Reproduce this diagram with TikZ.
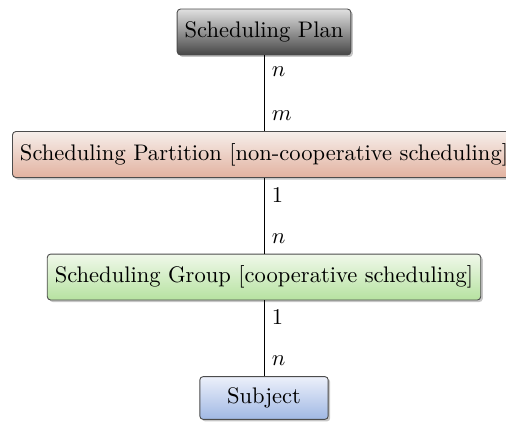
\documentclass[tikz,border=0pt]{standalone}
\usepackage{tikz}
\usetikzlibrary{shadows,positioning}
\definecolor{planbot}{RGB}{70,70,70}
\definecolor{parttop}{RGB}{246,238,234}
\definecolor{partbot}{RGB}{226,178,160}
\definecolor{grouptop}{RGB}{240,248,234}
\definecolor{groupbot}{RGB}{182,226,160}
\definecolor{subjtop}{RGB}{236,240,250}
\definecolor{subjbot}{RGB}{160,184,228}
\tikzstyle{block} = [
  rectangle, draw=black!70, rounded corners=1.5pt, text centered,
  minimum height = 20.4pt,
  drop shadow={opacity=0.45, shadow xshift=0.9pt, shadow yshift=-0.9pt}
]
\tikzstyle{planblock} = [block, top color=black!12, bottom color=planbot]
\tikzstyle{partblock} = [block, top color=parttop, bottom color=partbot]
\tikzstyle{groupblock} = [block, top color=grouptop, bottom color=groupbot]
\tikzstyle{subjblock} = [block, top color=subjtop, bottom color=subjbot]

\begin{document}
\begin{tikzpicture}[x=0.444pt, y=-0.444pt]
    \useasboundingbox (0,0) rectangle (506,424);
    \node[planblock, minimum width=76pt] (plan) at (264,32) {Scheduling Plan};
    \node[partblock, below=33.6pt of plan] (part) {Scheduling Partition [non-cooperative scheduling]};
    \node[groupblock, below=33.6pt of part] (group) {Scheduling Group [cooperative scheduling]};
    \node[subjblock, below=33.6pt of group, minimum width=57pt, minimum height=19pt] (subj) {Subject};

    \draw (plan) -- node[pos=0.22, right] {$n$} node[pos=0.8, right] {$m$} (part);
    \draw (part) -- node[pos=0.22, right] {1} node[pos=0.8, right] {$n$} (group);
    \draw (group) -- node[pos=0.22, right] {1} node[pos=0.8, right] {$n$} (subj);
\end{tikzpicture}
\end{document}
